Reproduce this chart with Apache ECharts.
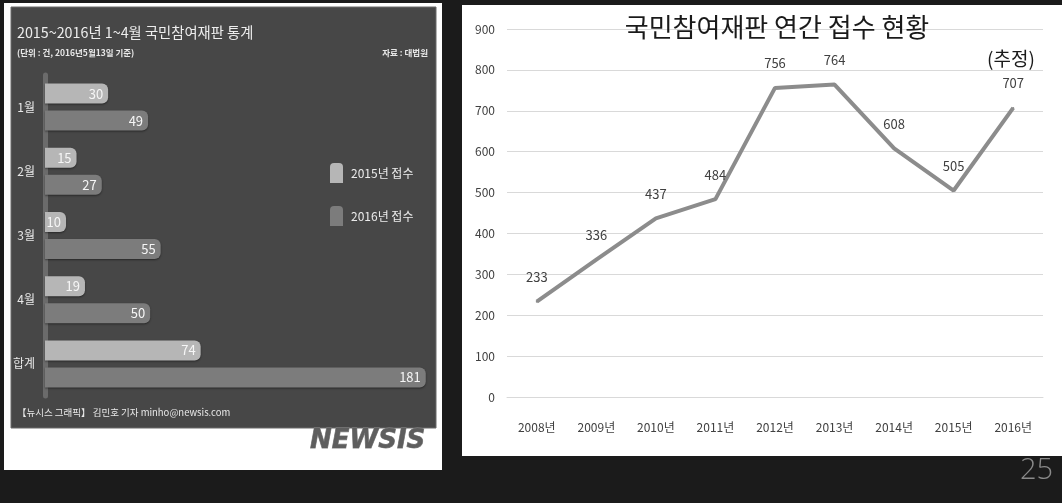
<!DOCTYPE html>
<html>
<head>
<meta charset="utf-8">
<script src="https://cdn.jsdelivr.net/npm/echarts@6/dist/echarts.min.js"></script>
<style>
html,body{margin:0;padding:0;background:#1b1b1b;}
#c{width:1062px;height:503px;}
</style>
</head>
<body>
<div id="c"></div>
<script>
// Left chart: monthly receipts 2015 vs 2016
const months = ['1월', '2월', '3월', '4월', '합계'];
const receipts2015 = [30, 15, 10, 19, 74];
const receipts2016 = [49, 27, 55, 50, 181];
// Right chart: annual receipts
const years = ['2008년', '2009년', '2010년', '2011년', '2012년', '2013년', '2014년', '2015년', '2016년'];
const annualCases = [233, 336, 437, 484, 756, 764, 608, 505, 707];

const FONT = '"Noto Sans CJK KR", "Noto Sans", sans-serif';
const chart = echarts.init(document.getElementById('c'), null, {renderer: 'canvas'});

const legendIcon = 'path://M0,4 Q0,0 4,0 L9,0 Q13,0 13,4 L13,20 L0,20 Z';

chart.setOption({
  backgroundColor: '#1b1b1b',
  animation: false,
  textStyle: {fontFamily: FONT},
  graphic: [
    {type: 'rect', z: -10, shape: {x: 4, y: 3, width: 438, height: 467}, style: {fill: '#ffffff'}},
    {type: 'rect', z: -9, shape: {x: 11, y: 7, width: 425, height: 421}, style: {fill: '#474747', stroke: '#6a6a6a', lineWidth: 1}},
    {type: 'rect', z: -10, shape: {x: 462, y: 5, width: 600, height: 451}, style: {fill: '#ffffff'}},
    {type: 'text', z: 50, x: 17, y: 33, style: {text: '2015~2016년 1~4월 국민참여재판 통계', fill: '#ededed', fontSize: 14.3, fontFamily: FONT, verticalAlign: 'middle'}},
    {type: 'text', z: 50, x: 17, y: 53, style: {text: '(단위 : 건, 2016년5월13일 기준)', fill: '#e8e8e8', fontSize: 8.5, fontWeight: 'bold', fontFamily: FONT, verticalAlign: 'middle'}},
    {type: 'text', z: 50, x: 428, y: 53, style: {text: '자료 : 대법원', fill: '#e8e8e8', fontSize: 8.5, fontWeight: 'bold', fontFamily: FONT, align: 'right', verticalAlign: 'middle'}},
    {type: 'text', z: 50, x: 17, y: 412, style: {text: '【뉴시스 그래픽】 김민호 기자 minho@newsis.com', fill: '#e8e8e8', fontSize: 9.5, fontFamily: FONT, verticalAlign: 'middle'}},
    {type: 'text', z: 50, x: 310, y: 441, style: {text: 'NEWSIS', fill: '#5e5e5e', stroke: '#888888', lineWidth: 0.8, fontSize: 26, fontWeight: 'bold', fontStyle: 'italic', fontFamily: '"DejaVu Sans"', verticalAlign: 'middle', shadowBlur: 3, shadowColor: 'rgba(0,0,0,0.45)', shadowOffsetY: 1}},
    {type: 'text', z: 50, x: 777, y: 27, style: {text: '국민참여재판 연간 접수 현황', fill: '#1a1a1a', fontSize: 26, fontFamily: FONT, align: 'center', verticalAlign: 'middle'}},
    {type: 'text', z: 50, x: 1011, y: 59, style: {text: '(추정)', fill: '#1a1a1a', fontSize: 19, fontFamily: FONT, align: 'center', verticalAlign: 'middle'}},
    {type: 'text', z: 50, x: 1053, y: 471, style: {text: '25', fill: '#8a8a8a', fontSize: 29, fontFamily: '"Open Sans"', fontWeight: 300, align: 'right', verticalAlign: 'middle'}}
  ],
  legend: {
    left: 325, top: 158, orient: 'vertical', itemGap: 23,
    itemWidth: 13, itemHeight: 20,
    icon: legendIcon,
    data: ['2015년 접수', '2016년 접수'],
    textStyle: {color: '#ececec', fontSize: 12, fontFamily: FONT, padding: [0, 0, 0, 3]}
  },
  grid: [
    {left: 45, top: 75, width: 385, height: 321},
    {left: 507, top: 29, width: 536, height: 368}
  ],
  xAxis: [
    {gridIndex: 0, type: 'value', min: 0, max: 183, show: false},
    {gridIndex: 1, type: 'category', data: years, boundaryGap: true,
      axisLine: {show: true, lineStyle: {color: '#d9d9d9', width: 1}},
      axisTick: {show: false},
      axisLabel: {color: '#404040', fontSize: 12, margin: 24, fontFamily: FONT}}
  ],
  yAxis: [
    {gridIndex: 0, type: 'category', data: months, inverse: true, offset: 3,
      axisLine: {show: true, lineStyle: {color: '#6b6b6b', width: 5, cap: 'round'}},
      axisTick: {show: false},
      axisLabel: {color: '#e8e8e8', fontSize: 12, margin: 7, fontFamily: FONT}},
    {gridIndex: 1, type: 'value', min: 0, max: 900, interval: 100,
      axisLine: {show: false}, axisTick: {show: false},
      splitLine: {lineStyle: {color: '#d9d9d9', width: 1}},
      axisLabel: {color: '#404040', fontSize: 12, margin: 12, fontFamily: FONT}}
  ],
  series: [
    {name: '2015년 접수', type: 'bar', xAxisIndex: 0, yAxisIndex: 0, data: receipts2015,
      barWidth: 20, barGap: '35%',
      itemStyle: {color: '#b6b6b6', borderRadius: [0, 6, 6, 0], shadowBlur: 2, shadowColor: 'rgba(0,0,0,0.45)', shadowOffsetY: 1},
      label: {show: true, position: 'insideRight', distance: 5, color: '#f6f6f6', fontSize: 13, fontFamily: FONT}},
    {name: '2016년 접수', type: 'bar', xAxisIndex: 0, yAxisIndex: 0, data: receipts2016,
      barWidth: 20,
      itemStyle: {color: '#7c7c7c', borderRadius: [0, 6, 6, 0], shadowBlur: 2, shadowColor: 'rgba(0,0,0,0.45)', shadowOffsetY: 1},
      label: {show: true, position: 'insideRight', distance: 5, color: '#f6f6f6', fontSize: 13, fontFamily: FONT}},
    {name: '접수', type: 'line', xAxisIndex: 1, yAxisIndex: 1, data: annualCases,
      symbol: 'circle', symbolSize: 2,
      itemStyle: {color: '#8c8c8c'},
      lineStyle: {color: '#8c8c8c', width: 4},
      label: {show: true, position: 'top', distance: 17, color: '#404040', fontSize: 13, fontFamily: FONT}}
  ]
});
</script>
</body>
</html>
